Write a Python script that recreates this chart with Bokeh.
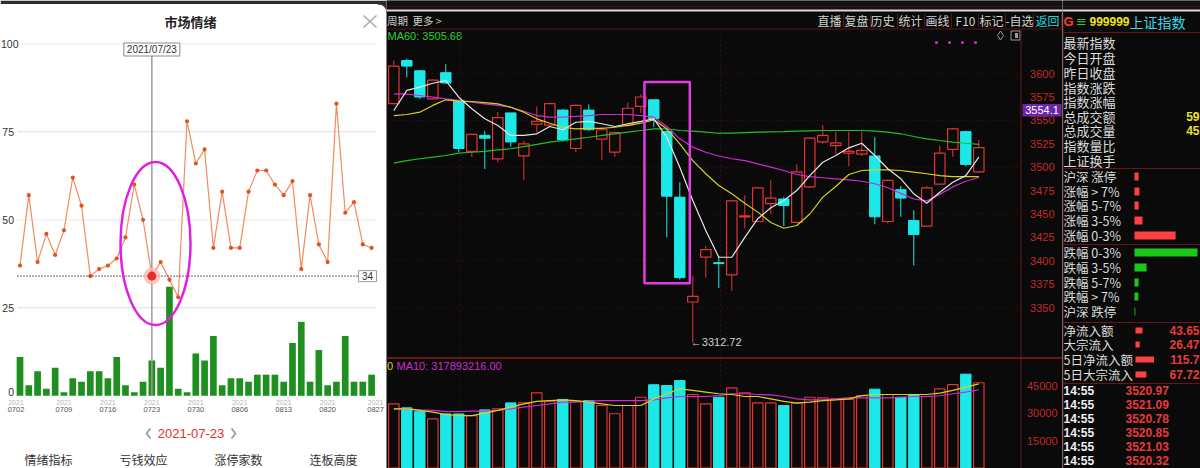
from bokeh.plotting import figure
from bokeh.layouts import row
from bokeh.models import Range1d
from bokeh.embed import file_html
from bokeh.resources import INLINE
from bokeh.core.properties import value

CJK = "Noto Sans CJK SC"
NUM = "Liberation Sans"

# ---------------- 市场情绪 (sentiment popup) ----------------
year = "2021"
trade_days = ["0702", "0705", "0706", "0707", "0708", "0709", "0712", "0713", "0714", "0715",
              "0716", "0719", "0720", "0721", "0722", "0723", "0726", "0727", "0728", "0729",
              "0730", "0802", "0803", "0804", "0805", "0806", "0809", "0810", "0811", "0812",
              "0813", "0816", "0817", "0818", "0819", "0820", "0823", "0824", "0825", "0826",
              "0827"]
sentiment = [37, 57, 38, 46, 40, 47, 62, 54, 34, 36,
             37, 39, 45, 60, 50, 34, 38, 33, 28, 78,
             66, 70, 42, 58, 42, 42, 58, 64, 64, 60,
             57, 61, 36, 57, 43, 38, 83, 52, 55, 43,
             42]
limit_up = [11, 3, 7, 2, 8, 1, 5, 4, 7, 7,
            5, 11, 3, 1, 4, 10, 8, 31, 2, 1,
            12, 10, 17, 3, 5, 5, 4, 6, 6, 6,
            4, 15, 21, 4, 13, 3, 4, 17, 4, 4,
            6]
selected_day = "0723"
sentiment_ticks = [0, 25, 50, 75, 100]
tab_names = ["情绪指标", "亏钱效应", "涨停家数", "连板高度"]

# ---------------- 上证指数 daily candles ----------------
opens = [3568, 3614, 3603, 3573, 3601, 3571, 3517, 3534, 3509, 3558,
         3512, 3546, 3545, 3561, 3520, 3561, 3530, 3516, 3545, 3565,
         3572, 3538, 3468, 3356, 3404, 3398, 3385, 3447, 3442, 3461,
         3466, 3441, 3479, 3527, 3523, 3515, 3514, 3512, 3442, 3476,
         3443, 3437, 3482, 3519, 3538, 3495]
highs = [3614, 3616, 3604, 3594, 3610, 3572, 3536, 3539, 3559, 3558,
         3528, 3565, 3569, 3562, 3567, 3567, 3543, 3538, 3569, 3578,
         3572, 3540, 3484, 3384, 3416, 3405, 3465, 3470, 3479, 3486,
         3468, 3503, 3532, 3545, 3538, 3538, 3538, 3532, 3487, 3480,
         3454, 3480, 3523, 3542, 3539, 3529]
lows = [3567, 3596, 3573, 3572, 3589, 3516, 3511, 3498, 3505, 3522,
        3486, 3537, 3543, 3527, 3516, 3539, 3508, 3511, 3543, 3558,
        3543, 3425, 3380, 3312.72, 3382, 3371, 3368, 3435, 3441, 3450,
        3437, 3440, 3478, 3525, 3514, 3501, 3512, 3439, 3440, 3447,
        3395, 3436, 3482, 3511, 3501, 3494]
closes = [3608, 3608, 3575, 3593, 3590, 3520, 3535, 3531, 3553, 3527,
          3525, 3549, 3568, 3529, 3566, 3540, 3540, 3537, 3563, 3575,
          3552, 3469, 3382, 3362, 3412, 3397, 3464, 3448, 3478, 3467,
          3459, 3495, 3531, 3534, 3526, 3517, 3518, 3447, 3486, 3467,
          3428, 3478, 3515, 3541, 3503, 3521]
ma5 = [3560.6, 3582.0, 3585.5, 3589.7, 3592.6, 3574.8, 3562.4, 3551.7, 3544.6, 3533.9,
       3533.9, 3535.7, 3543.5, 3540.0, 3548.0, 3549.0, 3546.4, 3543.5, 3546.4, 3549.0,
       3551.7, 3532.0, 3500.0, 3464.4, 3432.4, 3403.8, 3403.8, 3425.0, 3445.0, 3456.6,
       3464.4, 3475.0, 3491.0, 3505.3, 3512.5, 3520.7, 3525.6, 3512.5, 3498.3, 3487.6,
       3471.6, 3461.5, 3473.3, 3484.0, 3491.0, 3510.7]
ma10 = [3555.2, 3556.3, 3558.8, 3566.0, 3572.0, 3570.5, 3570.2, 3569.0, 3567.7, 3564.1,
        3558.8, 3551.7, 3547.0, 3542.7, 3541.0, 3541.5, 3541.5, 3542.7, 3544.6, 3547.0,
        3550.6, 3541.0, 3525.0, 3507.0, 3493.0, 3480.5, 3471.6, 3461.5, 3452.0, 3441.0,
        3434.8, 3437.7, 3450.0, 3468.0, 3479.4, 3492.2, 3496.5, 3497.2, 3497.2, 3496.5,
        3494.7, 3493.0, 3491.0, 3490.0, 3490.0, 3490.0]
ma20 = [3578.4, 3578.0, 3576.6, 3574.8, 3573.0, 3571.3, 3569.4, 3567.7, 3566.0, 3564.0,
        3559.8, 3555.2, 3553.4, 3553.4, 3554.2, 3555.2, 3556.3, 3556.3, 3556.3, 3555.2,
        3553.4, 3543.5, 3530.3, 3521.4, 3516.0, 3512.0, 3509.0, 3507.0, 3503.6, 3500.0,
        3496.5, 3492.2, 3490.0, 3488.7, 3487.6, 3486.5, 3485.0, 3482.3, 3478.0, 3472.0,
        3466.0, 3464.0, 3471.0, 3479.0, 3485.0, 3489.0]
ma60 = [3504.3, 3507.0, 3509.0, 3510.7, 3512.5, 3515.0, 3516.0, 3517.0, 3518.6, 3519.7,
        3522.0, 3524.3, 3526.7, 3528.5, 3530.3, 3532.0, 3533.9, 3535.7, 3537.4, 3539.2,
        3541.0, 3541.0, 3539.2, 3538.5, 3537.4, 3536.3, 3536.3, 3537.0, 3537.4, 3537.7,
        3538.0, 3538.5, 3538.9, 3539.2, 3539.2, 3539.2, 3539.2, 3538.5, 3537.4, 3535.7,
        3532.8, 3530.3, 3528.5, 3526.7, 3525.6, 3524.3]
volume = [35000, 32800, 31000, 26800, 29500, 29500, 28600, 31700, 32300, 35500,
          35500, 41000, 36400, 37400, 36400, 36800, 34100, 29600, 34100, 38600,
          45400, 45000, 47700, 40100, 35000, 38600, 43700, 41000, 35500, 35500,
          34100, 35500, 38600, 38300, 37700, 37400, 39500, 43000, 40100, 38600,
          39900, 39000, 43200, 45500, 51200, 46500]
vol_ma5 = [32300, 32300, 31400, 30500, 29200, 28600, 28600, 29900, 31400, 33200,
           35000, 36300, 36800, 37200, 36800, 35900, 35000, 34100, 34100, 34100,
           37700, 40500, 43200, 42300, 41400, 40500, 40100, 39000, 39000, 37700,
           36300, 35400, 35900, 36800, 37200, 37700, 39500, 40100, 40100, 40100,
           40100, 40100, 40800, 42300, 44100, 45900]
vol_ma10 = [32300, 32300, 31700, 31400, 30800, 30800, 31000, 31000, 31400, 32300,
            33200, 34100, 35000, 35900, 35900, 36500, 36800, 36800, 36800, 36800,
            37200, 38300, 39000, 39000, 39000, 39500, 40500, 40500, 40100, 39900,
            39000, 37700, 37200, 37200, 37700, 38300, 38300, 38300, 38300, 38600,
            39000, 39000, 39400, 40500, 41400, 42700]
price_ticks = [3350, 3375, 3400, 3425, 3450, 3475, 3500, 3525, 3550, 3575, 3600]
vol_ticks = [15000, 30000, 45000]
price_grid = [3350, 3400, 3450, 3500, 3550, 3600]
ma60_text = "MA60: 3505.68"
vol_ma10_text = "MA10: 317893216.00"
cursor_price = 3554.1
boxed_first, boxed_last = 20, 22
toolbar_items = ["直播", "复盘", "历史", "统计", "画线", "F10", "标记", "-自选", "返回"]

# ---------------- quote side panel ----------------
index_code = "999999"
index_name = "上证指数"
quote_labels = ["最新指数", "今日开盘", "昨日收盘", "指数涨跌", "指数涨幅",
                "总成交额", "总成交量", "指数量比", "上证换手"]
turnover_text = "59"
volume_text = "45"
up_labels = ["沪深 涨停", "涨幅 > 7%", "涨幅 5-7%", "涨幅 3-5%", "涨幅 0-3%"]
up_counts = [150, 180, 150, 290, 1500]
down_labels = ["跌幅 0-3%", "跌幅 3-5%", "跌幅 5-7%", "跌幅 > 7%", "沪深 跌停"]
down_counts = [2300, 440, 150, 140, 30]
flow_labels = ["净流入额", "大宗流入", "5日净流入额", "5日大宗流入"]
flow_values = [43.65, 26.47, 115.7, 67.72]
tick_times = ["14:55", "14:55", "14:55", "14:55", "14:55", "14:55"]
tick_prices = [3520.97, 3521.09, 3520.78, 3520.85, 3521.03, 3520.32]


def canvas(w, h, xr, yr, bg):
    p = figure(width=w, height=h, x_range=xr, y_range=yr,
               x_axis_type=None, y_axis_type=None,
               output_backend="svg", toolbar_location=None, min_border=0)
    p.outline_line_color = None
    p.background_fill_color = bg
    p.border_fill_color = bg
    return p


def txt(p, x, y, s, size, color, font=CJK, align="left", style="normal", **kw):
    p.text(x=x, y=y, text=s, text_font=value(font), text_font_size=size,
           text_color=color, text_align=align, text_baseline="middle",
           text_font_style=style, **kw)


# =============== left: 市场情绪 popup ===============
def lx(px):
    return (px - 19.5) / 8.79


def ly(py):
    return (395.3 - py) / 3.52


L = canvas(386, 468, Range1d(lx(0), lx(386)), Range1d(ly(468), ly(0)), "#ffffff")
idx = list(range(len(trade_days)))
sel = trade_days.index(selected_day)
sel_val = sentiment[sel]

# window strip and rounded corner above the popup
L.quad(left=lx(0), right=lx(386), top=ly(0), bottom=ly(3.5), fill_color="#2e2e2e", line_color=None)
L.patch(x=[lx(v) for v in [377, 386, 386, 385.4, 383.7, 381.1, 377]],
        y=[ly(v) for v in [3, 3, 12, 8.9, 6.3, 4.6, 4]], fill_color="#2e2e2e", line_color=None)

for t in sentiment_ticks[1:]:
    solid = t in (25, 75)
    L.segment(x0=lx(17), y0=t, x1=lx(376), y1=t,
              line_color="#cfe0ef" if solid else "#d9d9d9",
              line_width=1, line_dash="solid" if solid else "2 2")
# y labels: the widest one sits flush with the panel edge
short = [t for t in sentiment_ticks if t < 100]
txt(L, [lx(13.5)] * len(short), [ly(391) if t == 0 else t for t in short],
    [str(t) for t in short], "10.5px", "#333333", font=NUM, align="right")
txt(L, [lx(0.5)], [100], ["100"], "10.5px", "#333333", font=NUM, align="left")

L.vbar(x=idx, top=limit_up, bottom=0, width=0.76, fill_color="#1f8f1f", line_color=None)
L.segment(x0=sel, y0=ly(55), x1=sel, y1=0, line_color="#9c9c9c", line_width=1.5)

L.line(idx, sentiment, line_color="#f28b5e", line_width=1.2)
L.scatter(idx, sentiment, size=4.2, fill_color="#e2541f", line_color=None)

L.segment(x0=lx(17), y0=sel_val, x1=lx(357), y1=sel_val,
          line_color="#111111", line_dash="1 2", line_width=1.3)
L.rect(x=[lx(367)], y=[sel_val], width=18 / 8.79, height=11 / 3.52,
       fill_color="#ffffff", line_color="#9a9a9a")
txt(L, [lx(367)], [sel_val], [str(sel_val)], "10px", "#333333", font=NUM, align="center")
L.scatter([sel], [sel_val], size=17, fill_color="#f7b8ad", fill_alpha=0.7, line_color=None)
L.scatter([sel], [sel_val], size=9, fill_color="#ee2b22", line_color=None)

L.rect(x=[sel], y=[ly(49)], width=56 / 8.79, height=13 / 3.52, fill_color="#ffffff", line_color="#8a8a8a")
txt(L, [sel], [ly(49)], [f"{year}/{selected_day[:2]}/{selected_day[2:]}"], "10px", "#333333",
    font=NUM, align="center")

L.ellipse(x=lx(155), y=ly(243), width=70 / 8.79, height=163 / 3.52,
          fill_color=None, line_color="#e21ee2", line_width=2.5)

tick_idx = idx[::5]
offs = [-4 if i == tick_idx[0] else (4 if i == tick_idx[-1] else 0) for i in tick_idx]
txt(L, tick_idx, [ly(402)] * len(tick_idx), [year] * len(tick_idx), "7px", "#b5b5b5",
    font=NUM, align="center", x_offset=offs)
txt(L, tick_idx, [ly(409)] * len(tick_idx), [trade_days[i] for i in tick_idx], "7.5px", "#555555",
    font=NUM, align="center", x_offset=offs)

txt(L, [lx(190)], [ly(21)], ["市场情绪"], "13px", "#222222", align="center", style="bold")
L.segment(x0=[lx(363), lx(363)], y0=[ly(15), ly(27)], x1=[lx(376), lx(376)], y1=[ly(27), ly(15)],
          line_color="#a8a8a8", line_width=1.5)

L.line([lx(150), lx(146), lx(150)], [ly(428), ly(433), ly(438)], line_color="#a0a0a0", line_width=2)
L.line([lx(231), lx(235), lx(231)], [ly(428), ly(433), ly(438)], line_color="#a0a0a0", line_width=2)
txt(L, [lx(190.5)], [ly(433)], [f"{year}-{selected_day[:2]}-{selected_day[2:]}"], "13px", "#e0302e",
    font=NUM, align="center")
txt(L, [lx(v) for v in [48, 143, 238, 333]], [ly(459)] * 4, tab_names, "12px", "#333333", align="center")


# =============== middle: candle chart ===============
def tx(px):
    return (px - 393.3) / 13


def ty(py):
    return 3500 + (166.7 - py) / 0.936


def tv(py):
    return (467.5 - py) * 15000 / 27.5


T = canvas(676, 468, Range1d(tx(386), tx(1062)), Range1d(ty(468), ty(0)), "#0a0a0a")
T.extra_y_ranges = {"vol": Range1d(tv(468), tv(0))}
RED = "#e23434"
CYAN = "#1de8e8"
DARKRED = "#5e1414"

T.quad(left=tx(386), right=tx(1062), top=ty(0), bottom=ty(9), fill_color="#121212", line_color=None)
T.segment(x0=tx(386), y0=ty(6), x1=tx(1062), y1=ty(6), line_color="#4a1010", line_width=1)
T.segment(x0=tx(386), y0=ty(10), x1=tx(1062), y1=ty(10), line_color="#dadada", line_width=2)
T.segment(x0=tx(386), y0=ty(28.5), x1=tx(1062), y1=ty(28.5), line_color=DARKRED, line_width=1)

txt(T, [tx(386.5), tx(412)], [ty(20)] * 2, ["周期", "更多 >"], "10.5px", "#cfcfcf")
tool_px = [829, 856, 882, 910, 937, 965, 991, 1019, 1047]
txt(T, [tx(v) for v in tool_px], [ty(20)] * len(tool_px), toolbar_items, "12px",
    ["#d2d2d2"] * (len(tool_px) - 1) + ["#25d5d5"], align="center")
sep_px = [843, 870, 897, 924, 951, 978, 1005, 1033, 1061]
T.segment(x0=[tx(v) for v in sep_px], y0=ty(13), x1=[tx(v) for v in sep_px], y1=ty(27),
          line_color=DARKRED, line_width=1)

txt(T, [tx(387)], [ty(35)], [ma60_text], "11px", "#2fcf2f", font=NUM)
T.scatter([tx(v) for v in [936, 949, 962, 975]], [ty(42)] * 4, size=3, fill_color="#d22fd2", line_color=None)
T.scatter([tx(1000)], [ty(35)], marker="diamond", size=9, fill_color=None, line_color="#9a9a9a")
T.rect(x=[tx(1015)], y=[ty(35)], width=9 / 13, height=9 / 0.936, fill_color=None, line_color="#9a9a9a")
T.rect(x=[tx(1016)], y=[ty(35)], width=3 / 13, height=5 / 0.936, fill_color="#9a9a9a", line_color=None)

# grid
T.segment(x0=tx(386), y0=price_grid, x1=tx(1020), y1=price_grid,
          line_color="#3c0d0d", line_dash="2 3", line_width=1)
for vx in [460, 720]:
    T.segment(x0=tx(vx), y0=ty(29), x1=tx(vx), y1=ty(468), line_color="#3c0d0d", line_dash="2 3")
T.segment(x0=tx(1020.5), y0=ty(29), x1=tx(1020.5), y1=ty(468), line_color="#6a1515", line_width=1)
txt(T, [tx(1054)] * len(price_ticks), price_ticks, [str(v) for v in price_ticks], "11px", "#c42828",
    font=NUM, align="right")

# candles
n = len(opens)
ci = list(range(n))
up = [closes[i] >= opens[i] for i in ci]
ui = [i for i in ci if up[i]]
di = [i for i in ci if not up[i]]
T.segment(x0=di, y0=[highs[i] for i in di], x1=di, y1=[lows[i] for i in di], line_color=CYAN, line_width=1)
T.segment(x0=ui, y0=[highs[i] for i in ui], x1=ui, y1=[closes[i] for i in ui], line_color=RED, line_width=1)
T.segment(x0=ui, y0=[opens[i] for i in ui], x1=ui, y1=[lows[i] for i in ui], line_color=RED, line_width=1)
T.vbar(x=di, top=[opens[i] for i in di], bottom=[closes[i] for i in di], width=0.8,
       fill_color=CYAN, line_color=CYAN)
T.vbar(x=ui, top=[closes[i] for i in ui], bottom=[opens[i] for i in ui], width=0.8,
       fill_color="#0a0a0a", line_color=RED, line_width=1.2)

T.line(ci, ma60, line_color="#22c022", line_width=1.2)
T.line(ci, ma20, line_color="#cf2bcf", line_width=1.2)
T.line(ci, ma10, line_color="#d6d21c", line_width=1.2)
T.line(ci, ma5, line_color="#e6e6e6", line_width=1.2)

# highlight box around the three-day drop
box_top = max(highs[boxed_first:boxed_last + 1]) + 19
box_bot = min(lows[boxed_first:boxed_last + 1]) - 4
T.quad(left=boxed_first - 0.72, right=boxed_last + 0.77, top=box_top, bottom=box_bot,
       fill_color=None, line_color="#e23ce2", line_width=2.5)

low_i = lows.index(min(lows))
txt(T, [low_i], [lows[low_i]], [f"←{lows[low_i]:.2f}"], "11px", "#d0d0d0", font=NUM, x_offset=-2)

T.quad(left=tx(1022), right=tx(1061), bottom=cursor_price, top=cursor_price + 12.5 / 0.936,
       fill_color="#6a26a6", line_color=None)
txt(T, [tx(1041.5)], [cursor_price + 6.2 / 0.936], [f"{cursor_price}"], "11px", "#ffffff",
    font=NUM, align="center")

# volume panel
T.segment(x0=tx(386), y0=ty(357.5), x1=tx(1062), y1=ty(357.5), line_color="#8a1c1c", line_width=1.5)
txt(T, [tx(386.5)], [ty(365)], ["0"], "11px", "#d6d21c", font=NUM, align="left")
txt(T, [tx(396)], [ty(365)], [vol_ma10_text], "11px", "#cf2bcf", font=NUM)
T.vbar(x=di, top=[volume[i] for i in di], bottom=0, width=0.8, fill_color=CYAN, line_color=CYAN,
       y_range_name="vol")
T.vbar(x=ui, top=[volume[i] for i in ui], bottom=0, width=0.8, fill_color=None, line_color=RED,
       line_width=1.2, y_range_name="vol")
T.line(ci, vol_ma10, line_color="#cf2bcf", line_width=1.2, y_range_name="vol")
T.line(ci, vol_ma5, line_color="#d6d21c", line_width=1.2, y_range_name="vol")
txt(T, [tx(1057)] * len(vol_ticks), vol_ticks, [str(v) for v in vol_ticks], "11px", "#c42828",
    font=NUM, align="right", y_range_name="vol")


# =============== right: quote panel ===============
Q = canvas(138, 468, Range1d(1062, 1200), Range1d(468, 0), "#0a0a0a")
Q.extra_x_ranges = {"cnt": Range1d((1062 - 1134) * 36.5, (1200 - 1134) * 36.5),
                    "flow": Range1d((1062 - 1135) * 6.25, (1200 - 1135) * 6.25)}
Q.quad(left=1062, right=1200, top=0, bottom=9, fill_color="#121212", line_color=None)
Q.segment(x0=1062, y0=6, x1=1200, y1=6, line_color="#4a1010", line_width=1)
Q.segment(x0=1062, y0=10, x1=1200, y1=10, line_color="#dadada", line_width=2)
Q.segment(x0=1062.5, y0=11, x1=1062.5, y1=468, line_color="#6a1515", line_width=1)
for yy in [32, 168, 244, 322, 383]:
    Q.segment(x0=1062, y0=yy, x1=1200, y1=yy, line_color="#6a1515", line_width=1)

txt(Q, [1068], [21], ["G"], "13px", "#ff3b3b", font=NUM, align="center", style="bold")
txt(Q, [1081], [21], ["≡"], "13px", "#2fcf2f", font="DejaVu Sans", align="center")
txt(Q, [1089], [21], [index_code], "12px", "#f0e020", font=NUM, style="bold")
txt(Q, [1129], [21], [index_name], "14px", "#3bd6e6")

q_rows = [42, 57, 72, 87, 101, 116, 130, 145, 160]
txt(Q, [1063] * len(q_rows), q_rows, quote_labels, "13px", "#dcdcdc")
txt(Q, [1199, 1199], [116, 130], [turnover_text, volume_text], "12px", "#f0e020", font=NUM,
    style="bold", align="right")

up_rows = [176, 191, 205, 220, 235]
down_rows = [252, 267, 282, 296, 311]
txt(Q, [1063] * 5, up_rows, up_labels, "12.5px", "#dcdcdc")
txt(Q, [1063] * 5, down_rows, down_labels, "12.5px", "#dcdcdc")
Q.hbar(y=up_rows, left=0, right=up_counts, height=8, fill_color="#ff4141", line_color=None,
       x_range_name="cnt")
Q.hbar(y=down_rows, left=0, right=down_counts, height=8, fill_color="#19c819", line_color=None,
       x_range_name="cnt")

flow_rows = [330, 344, 359, 374]
txt(Q, [1063] * 4, flow_rows, flow_labels, "12.5px", "#dcdcdc")
Q.hbar(y=flow_rows, left=0, right=flow_values, height=6, fill_color="#ff4141", line_color=None,
       x_range_name="flow")
txt(Q, [1199] * 4, flow_rows, [f"{v}" for v in flow_values], "12px", "#e83a3a", font=NUM,
    align="right", style="bold")

t_rows = [390, 404, 418, 432, 446, 460]
txt(Q, [1063] * 6, t_rows, tick_times, "12px", "#f0f0f0", font=NUM, style="bold")
txt(Q, [1125] * 6, t_rows, [f"{v:.2f}" for v in tick_prices], "12px", "#e83a3a", font=NUM, style="bold")

layout = row(L, T, Q, spacing=0)
open("out.html", "w").write(file_html(layout, INLINE))
